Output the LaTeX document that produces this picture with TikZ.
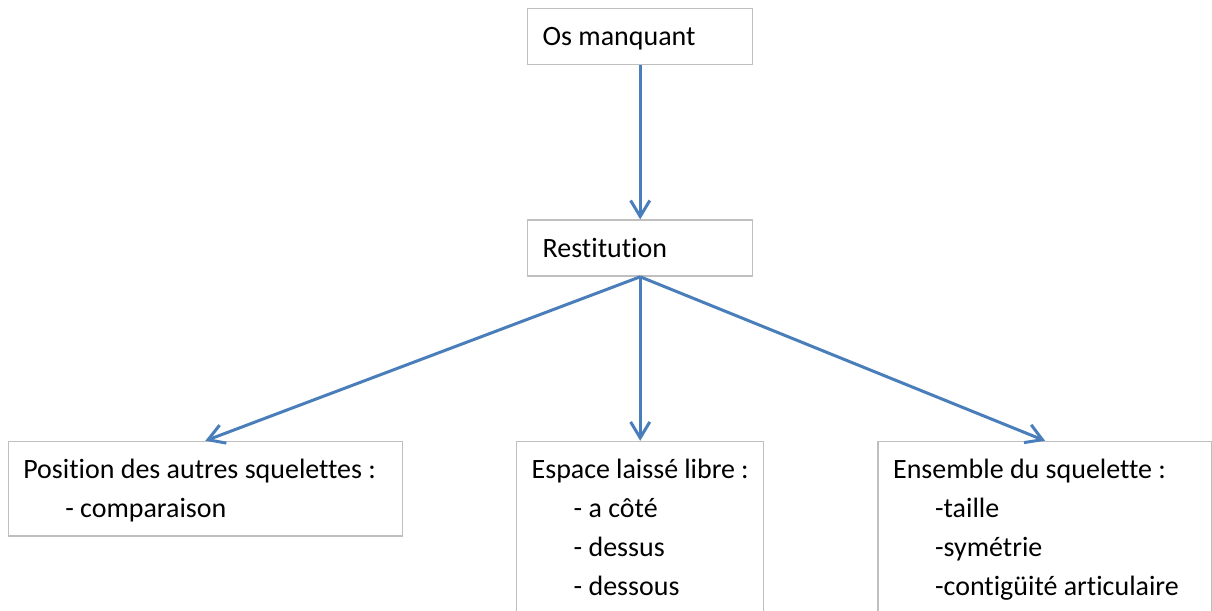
\documentclass[tikz,border=0pt]{standalone}
\usepackage{fontspec}
\setmainfont{Carlito}[Ligatures=NoCommon]
\usetikzlibrary{positioning}
\usetikzlibrary{arrows.meta}
\definecolor{arrowblue}{HTML}{4A7EBB}
\definecolor{boxgray}{HTML}{BFBFBF}
\newcommand{\itemgap}{\hspace*{1.05cm}}

\begin{document}
\begin{tikzpicture}[
        >={Straight Barb[length=0.4cm,width=0.48cm]},
        boxnode/.style={rectangle, draw=boxgray, line width=0.035cm, align=flush left, inner xsep=0.375cm, inner ysep=0.45cm, font=\fontsize{19.9pt}{27.7pt}\selectfont},
        flow/.style={->, draw=arrowblue, line width=0.075cm}
    ]
    \useasboundingbox (0,0) rectangle (30.3,-15.275);

        \node [boxnode, anchor=north west, text width=4.875cm, text depth=0pt, minimum height=1.4cm] (Missing) at (13.175,-0.2) {Os manquant};
        \node [boxnode, text width=4.875cm, text depth=0pt, minimum height=1.4cm, below=3.85cm of Missing] (Restit) {Restitution};
        \node [boxnode, text width=5.425cm, below=4.1cm of Restit] (Space) {Espace laissé libre~:\\ \itemgap- a côté\\ \itemgap- dessus\\ \itemgap- dessous};
        \node [boxnode, text width=9.1cm, text depth=0.975cm, left=2.825cm of Space.north west, anchor=north east] (Others) {Position des autres squelettes :\\ \itemgap- comparaison};
        \node [boxnode, text width=7.6cm, right=2.825cm of Space.north east, anchor=north west] (Whole) {Ensemble du squelette :\\ \itemgap-taille\\ \itemgap-symétrie\\ \itemgap-contigüité articulaire};

        \draw[flow] (Missing) -- (Restit);
        \draw[flow] (Restit.south) -- (Others.north);
        \draw[flow] (Restit.south) -- (Space.north);
        \draw[flow] (Restit.south) -- (Whole.north);

    \end{tikzpicture}
\end{document}
